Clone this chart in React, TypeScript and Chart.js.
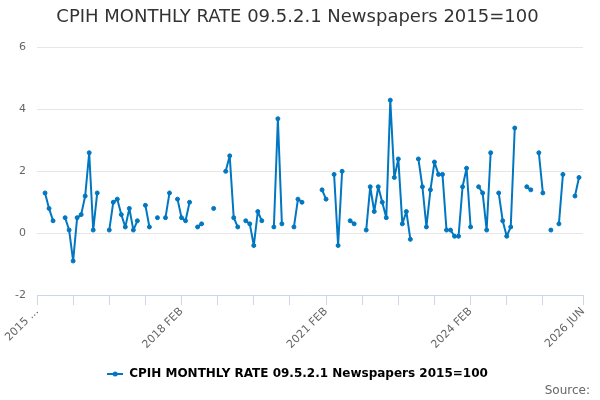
import React, { useEffect, useRef } from "react";
import { Chart, registerables } from "chart.js";

Chart.register(...registerables);

const seriesLabel = "CPIH MONTHLY RATE 09.5.2.1 Newspapers 2015=100";
const chartTitle = "CPIH MONTHLY RATE 09.5.2.1 Newspapers 2015=100";

// Monthly values, index 0 = 2015 FEB ... index 136 = 2026 JUN (null = no data)
const monthlyRate: (number | null)[] = [
  null, null, 1.3, 0.8, 0.4, null, null, 0.5, 0.1, -0.9,
  0.5, 0.6, 1.2, 2.6, 0.1, 1.3, null, null, 0.1, 1.0,
  1.1, 0.6, 0.2, 0.8, 0.1, 0.4, null, 0.9, 0.2, null,
  0.5, null, 0.5, 1.3, null, 1.1, 0.5, 0.4, 1.0, null,
  0.2, 0.3, null, null, 0.8, null, null, 2.0, 2.5, 0.5,
  0.2, null, 0.4, 0.3, -0.4, 0.7, 0.4, null, null, 0.2,
  3.7, 0.3, null, null, 0.2, 1.1, 1.0, null, null, null,
  null, 1.4, 1.1, null, 1.9, -0.4, 2.0, null, 0.4, 0.3,
  null, null, 0.1, 1.5, 0.7, 1.5, 1.0, 0.5, 4.3, 1.8,
  2.4, 0.3, 0.7, -0.2, null, 2.4, 1.5, 0.2, 1.4, 2.3,
  1.9, 1.9, 0.1, 0.1, -0.1, -0.1, 1.5, 2.1, 0.2, null,
  1.5, 1.3, 0.1, 2.6, null, 1.3, 0.4, -0.1, 0.2, 3.4,
  null, null, 1.5, 1.4, null, 2.6, 1.3, null, 0.1, null,
  0.3, 1.9, null, null, 1.2, 1.8, null,
];

const xTickIndex = [0, 9, 18, 27, 36, 45, 54, 63, 72, 81, 90, 99, 108, 117, 126, 136];
const xTickText = [
  "2015 ...", "", "", "", "2018 FEB", "", "", "", "2021 FEB", "", "", "",
  "2024 FEB", "", "", "2026 JUN",
];

const yMin = -2;
const yMax = 6;
const yStep = 2;

const LINE = "#0077c0";
const FONT = "'DejaVu Sans', Verdana, sans-serif";

export default function App() {
  const ref = useRef<HTMLCanvasElement | null>(null);

  useEffect(() => {
    if (!ref.current) return;
    const sym = document.createElement("canvas");
    sym.width = 16;
    sym.height = 6;
    const sctx = sym.getContext("2d")!;
    sctx.strokeStyle = LINE;
    sctx.lineWidth = 2;
    sctx.beginPath();
    sctx.moveTo(0, 3);
    sctx.lineTo(16, 3);
    sctx.stroke();
    sctx.fillStyle = LINE;
    sctx.beginPath();
    sctx.arc(8, 3, 2.5, 0, Math.PI * 2);
    sctx.fill();

    const chart = new Chart(ref.current, {
      type: "line",
      data: {
        datasets: [
          {
            label: seriesLabel,
            data: monthlyRate.map((v, i) => ({ x: i, y: v })) as any,
            borderColor: LINE,
            backgroundColor: LINE,
            borderWidth: 2,
            borderJoinStyle: "round",
            borderCapStyle: "round",
            pointRadius: 2,
            pointStyle: "circle",
            pointBackgroundColor: LINE,
            pointBorderColor: LINE,
            pointBorderWidth: 1,
            spanGaps: false,
            tension: 0,
          } as any,
        ],
      },
      options: {
        animation: false,
        responsive: false,
        layout: { padding: { left: 6, right: 11, top: 0, bottom: 10 } },
        plugins: {
          title: {
            display: true,
            text: chartTitle,
            color: "#333333",
            font: { family: FONT, size: 18, weight: "normal" },
            padding: { top: 7, bottom: 19 },
          },
          legend: {
            position: "bottom",
            labels: {
              usePointStyle: true,
              pointStyleWidth: 16,
              color: "#333333",
              font: { family: FONT, size: 12, weight: "bold" },
              padding: 10,
              generateLabels: () => [
                {
                  text: seriesLabel,
                  pointStyle: sym,
                  fillStyle: LINE,
                  strokeStyle: LINE,
                  lineWidth: 0,
                  hidden: false,
                  datasetIndex: 0,
                } as any,
              ],
            },
          },
          tooltip: { enabled: false },
        },
        scales: {
          x: {
            type: "linear",
            min: 0,
            max: monthlyRate.length - 1,
            afterBuildTicks: (scale: any) => {
              scale.ticks = xTickIndex.map((v) => ({ value: v }));
            },
            afterFit: (scale: any) => {
              scale.height = 63;
            },
            ticks: {
              autoSkip: false,
              minRotation: 45,
              maxRotation: 45,
              color: "#666666",
              font: { family: FONT, size: 11 },
              padding: 0,
              callback: (value: any) => {
                const k = xTickIndex.indexOf(Number(value));
                return k >= 0 ? xTickText[k] : "";
              },
            },
            grid: {
              drawOnChartArea: false,
              drawTicks: true,
              tickLength: 10,
              color: "#ccd6eb",
              lineWidth: 1,
            },
            border: { display: true, color: "#ccd6eb", width: 1 },
          },
          y: {
            min: yMin,
            max: yMax,
            afterFit: (scale: any) => {
              scale.width = 31;
            },
            ticks: {
              stepSize: yStep,
              color: "#666666",
              font: { family: FONT, size: 11 },
              padding: 11,
            },
            grid: { color: "#e6e6e6", drawTicks: false, lineWidth: 1 },
            border: { display: false },
          },
          yPad: {
            type: "linear",
            position: "right",
            display: true,
            afterFit: (scale: any) => {
              scale.width = 6;
            },
            ticks: { display: false },
            grid: { display: false, drawOnChartArea: false },
            border: { display: false },
          },
        },
      },
    });
    return () => chart.destroy();
  }, []);

  return (
    <div style={{ position: "fixed", left: 0, top: 0, width: 600, height: 400, background: "#ffffff" }}>
      <canvas ref={ref} width={600} height={400} style={{ width: 600, height: 400, display: "block" }} />
      <span
        style={{
          position: "absolute",
          right: 10,
          top: 382,
          fontFamily: FONT,
          fontSize: 12,
          color: "#666666",
          lineHeight: "16px",
        }}
      >
        Source:
      </span>
    </div>
  );
}
